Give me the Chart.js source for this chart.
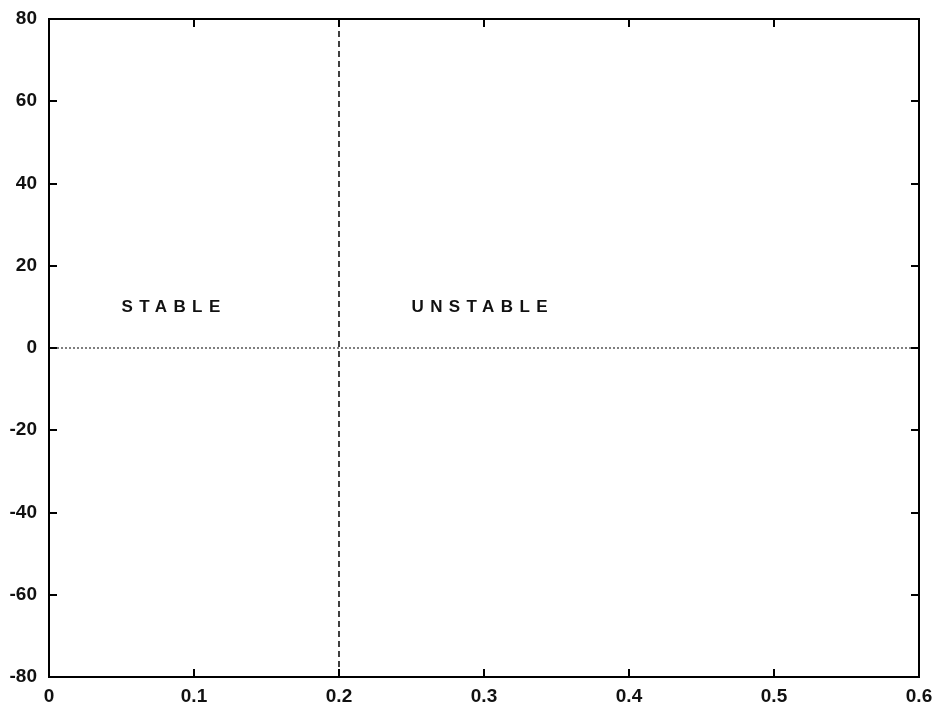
<!DOCTYPE html>
<html>
<head>
<meta charset="utf-8">
<script src="https://cdn.jsdelivr.net/npm/chart.js@4/dist/chart.umd.min.js"></script>
<style>
  html, body { margin: 0; padding: 0; background: #fff; }
  #wrap { width: 932px; height: 706px; }
</style>
</head>
<body>
<div id="wrap"><canvas id="c" width="932" height="706"></canvas></div>
<script>
// Axis ranges and tick values
const xTicks = [0, 0.1, 0.2, 0.3, 0.4, 0.5, 0.6];
const yTicks = [-80, -60, -40, -20, 0, 20, 40, 60, 80];

// Stability boundary (vertical) and zero line (horizontal)
const boundaryX = [0.2, 0.2];
const boundaryY = [-80, 80];
const zeroX = [0, 0.6];
const zeroY = [0, 0];

// Region labels
const regionNames = ['STABLE', 'UNSTABLE'];
const regionX = [0.05, 0.25];
const regionY = [10, 10];

const toPoints = (xs, ys) => xs.map((x, i) => ({ x: x, y: ys[i] }));

// Draws the box frame, inward ticks on all four sides, and the region labels
const framePlugin = {
  id: 'frame',
  afterDatasetsDraw(chart) {
    const { ctx, chartArea: a, scales } = chart;
    const xs = scales.x, ys = scales.y;
    const len = 8;
    ctx.save();
    ctx.strokeStyle = '#000';
    ctx.lineWidth = 2;
    ctx.beginPath();
    xTicks.forEach(v => {
      const px = Math.round(xs.getPixelForValue(v));
      ctx.moveTo(px, a.bottom); ctx.lineTo(px, a.bottom - len);
      ctx.moveTo(px, a.top); ctx.lineTo(px, a.top + len);
    });
    yTicks.forEach(v => {
      const py = Math.round(ys.getPixelForValue(v));
      ctx.moveTo(a.left, py); ctx.lineTo(a.left + len, py);
      ctx.moveTo(a.right, py); ctx.lineTo(a.right - len, py);
    });
    ctx.stroke();
    ctx.strokeRect(a.left, a.top, a.right - a.left, a.bottom - a.top);

    ctx.fillStyle = '#111';
    ctx.font = 'bold 17px "Liberation Sans", Arial, sans-serif';
    ctx.textBaseline = 'middle';
    ctx.textAlign = 'left';
    if ('letterSpacing' in ctx) ctx.letterSpacing = '6.4px';
    regionNames.forEach((t, i) => {
      ctx.fillText(t, xs.getPixelForValue(regionX[i]), ys.getPixelForValue(regionY[i]));
    });
    ctx.restore();
  }
};

const tickFont = { family: '"Liberation Sans", Arial, sans-serif', size: 19, weight: 'bold' };

new Chart(document.getElementById('c'), {
  type: 'scatter',
  data: {
    datasets: [
      {
        data: toPoints(boundaryX, boundaryY),
        showLine: true,
        borderColor: '#000',
        borderWidth: 1.5,
        borderDash: [6, 4],
        pointRadius: 0
      },
      {
        data: toPoints(zeroX, zeroY),
        showLine: true,
        borderColor: '#000',
        borderWidth: 1,
        borderDash: [2, 2],
        pointRadius: 0
      }
    ]
  },
  options: {
    responsive: false,
    animation: false,
    layout: { padding: { top: 19, right: 13, left: 0, bottom: 0 } },
    plugins: { legend: { display: false }, tooltip: { enabled: false } },
    scales: {
      x: {
        type: 'linear',
        min: 0, max: 0.6,
        afterBuildTicks: s => { s.ticks = xTicks.map(v => ({ value: v })); },
        afterFit: s => { s.height = 29; s.paddingLeft = 0; s.paddingRight = 0; },
        ticks: { color: '#111', font: tickFont, padding: 8, maxRotation: 0,
                 callback: v => String(v) },
        grid: { display: false, drawTicks: false },
        border: { display: false }
      },
      y: {
        type: 'linear',
        min: -80, max: 80,
        afterBuildTicks: s => { s.ticks = yTicks.map(v => ({ value: v })); },
        afterFit: s => { s.width = 49; s.paddingTop = 0; s.paddingBottom = 0; },
        ticks: { color: '#111', font: tickFont, padding: 12,
                 callback: v => String(v) },
        grid: { display: false, drawTicks: false },
        border: { display: false }
      }
    }
  },
  plugins: [framePlugin]
});
</script>
</body>
</html>
